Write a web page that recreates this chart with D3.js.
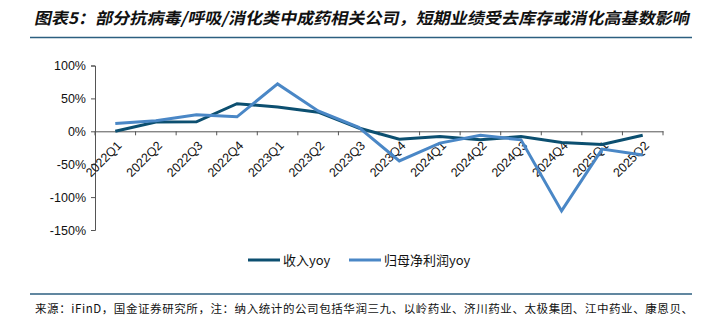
<!DOCTYPE html>
<html><head><meta charset="utf-8">
<script src="https://cdn.jsdelivr.net/npm/d3@7"></script>
<style>
body{margin:0;background:#fff;}
svg{display:block;}
</style></head>
<body>
<svg id="c" width="703" height="324"></svg>
<script>
const categories = ["2022Q1","2022Q2","2022Q3","2022Q4","2023Q1","2023Q2","2023Q3","2023Q4","2024Q1","2024Q2","2024Q3","2024Q4","2025Q1","2025Q2"];
const revenueYoy = [0, 14, 14.5, 42, 37, 29, 5, -12, -8, -13, -8, -17, -20, -6];
const profitYoy = [12, 16, 25, 22, 72, 31, 6, -45, -18, -6, -13, -121, -27, -36];
const yTicks = [100, 50, 0, -50, -100, -150];
const seriesNames = ["收入yoy", "归母净利润yoy"];
const colors = ["#0c4f70", "#4a87c6"];

const svg = d3.select("#c");
const cjk = "'Noto Sans CJK SC', sans-serif";

// title
svg.append("text").attr("x", 35).attr("y", 24)
  .attr("font-family", cjk).attr("font-size", 16).attr("font-weight", "bold")
  .attr("fill", "#111")
  .attr("textLength", 655).attr("lengthAdjust", "spacingAndGlyphs")
  .attr("transform", "translate(4,0) skewX(-12)")
  .text("图表5：部分抗病毒/呼吸/消化类中成药相关公司，短期业绩受去库存或消化高基数影响");
svg.append("line").attr("x1", 30).attr("x2", 692).attr("y1", 37.5).attr("y2", 37.5)
  .attr("stroke", "#2c5f80").attr("stroke-width", 1.5);

const x = d3.scaleBand().domain(categories).range([95, 663]);
const y = d3.scaleLinear().domain([-150, 100]).range([230, 65.5]);

const axisColor = "#555";
// y axis
const ya = svg.append("g").attr("transform", "translate(95,0)")
  .call(d3.axisLeft(y).tickValues(yTicks).tickSize(4).tickFormat(d => d + "%"));
ya.select(".domain").attr("stroke", axisColor);
ya.selectAll(".tick line").attr("stroke", axisColor);
ya.selectAll("text").attr("font-family", "'Liberation Sans', Arial, sans-serif")
  .attr("font-size", 12.5).attr("fill", "#111").attr("dx", -2);

// x axis at zero
const xa = svg.append("g").attr("transform", `translate(0,${y(0)})`)
  .call(d3.axisBottom(x).tickSize(0).tickFormat(""));
xa.select(".domain").attr("stroke", axisColor);
// tick marks at band boundaries
const bounds = categories.map(c => x(c)).concat([x.range()[1]]);
svg.append("g").selectAll("line").data(bounds).join("line")
  .attr("x1", d => d).attr("x2", d => d)
  .attr("y1", y(0)).attr("y2", y(0) + 4)
  .attr("stroke", axisColor);

// x labels
svg.append("g").selectAll("text").data(categories).join("text")
  .attr("transform", d => `translate(${x(d) + x.bandwidth()/2 + 4},${y(0) + 12}) rotate(-45)`)
  .attr("text-anchor", "end").attr("dy", "0.35em")
  .attr("font-family", "'Liberation Sans', Arial, sans-serif").attr("font-size", 12.5)
  .attr("fill", "#111").text(d => d);

// lines
const line = d3.line().x((d, i) => x(categories[i]) + x.bandwidth()/2).y(d => y(d));
[revenueYoy, profitYoy].forEach((s, k) => {
  svg.append("path").datum(s).attr("d", line).attr("fill", "none")
    .attr("stroke", colors[k]).attr("stroke-width", 3).attr("stroke-linejoin", "miter");
});

// legend
const legX = [248, 349];
seriesNames.forEach((n, k) => {
  svg.append("line").attr("x1", legX[k]).attr("x2", legX[k] + 32)
    .attr("y1", 260).attr("y2", 260).attr("stroke", colors[k]).attr("stroke-width", 3);
  svg.append("text").attr("x", legX[k] + 35).attr("y", 265)
    .attr("font-family", cjk).attr("font-size", 13).attr("fill", "#111").text(n);
});

// bottom rule and source
svg.append("line").attr("x1", 30).attr("x2", 692).attr("y1", 294).attr("y2", 294)
  .attr("stroke", "#2c5f80").attr("stroke-width", 1.5);
svg.append("text").attr("x", 35).attr("y", 313)
  .attr("font-family", cjk).attr("font-size", 11.5).attr("fill", "#111")
  .attr("textLength", 658).attr("lengthAdjust", "spacing")
  .text("来源：iFinD，国金证券研究所，注：纳入统计的公司包括华润三九、以岭药业、济川药业、太极集团、江中药业、康恩贝、");
</script>
</body></html>
